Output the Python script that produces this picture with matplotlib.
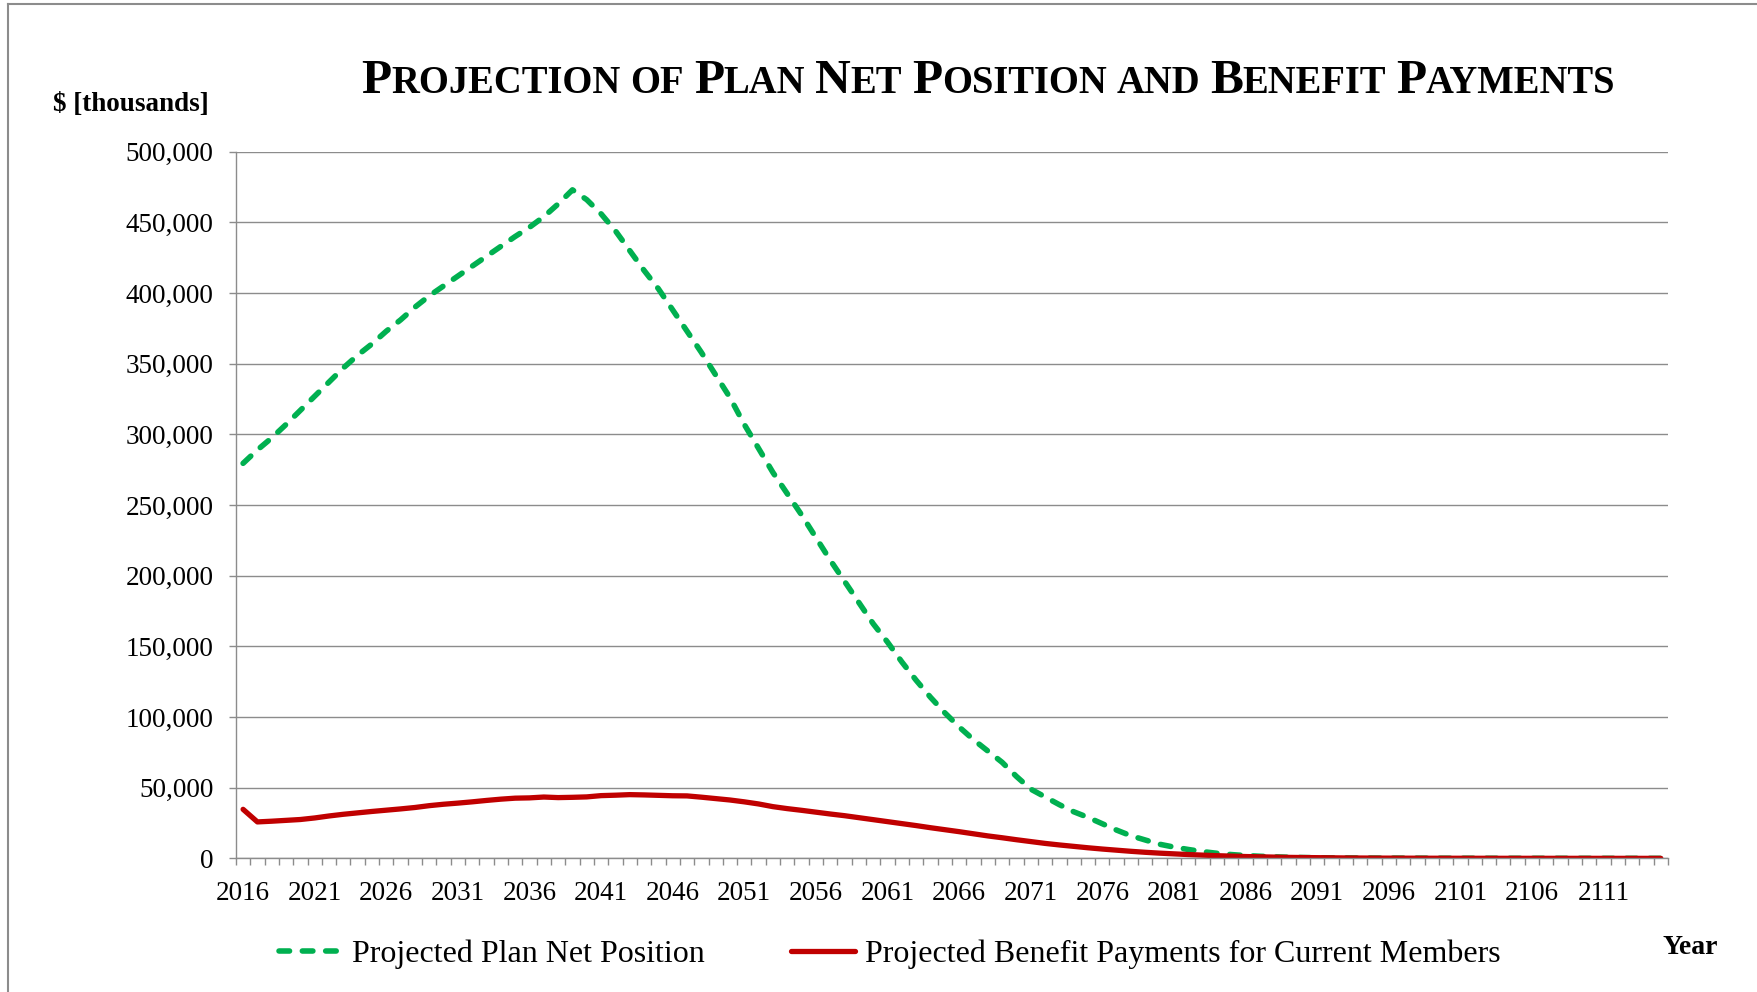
import matplotlib
matplotlib.use('Agg')
import numpy as np
import matplotlib.pyplot as plt
from matplotlib.lines import Line2D
from matplotlib.ticker import FuncFormatter
from matplotlib.offsetbox import TextArea, HPacker, AnchoredOffsetbox

plt.rcParams['font.family'] = ['Liberation Serif', 'DejaVu Serif']

# data, $ thousands
years = list(range(2016, 2116))

net_position = [
    279.5, 289, 297.5, 307, 317, 327, 337, 347, 356, 364, 373, 381, 390, 398, 405, 412,
    419, 426, 433, 440, 446.5, 454, 463, 473,
    466, 456, 444, 430, 416, 403, 388, 373, 358, 342, 326, 307, 290, 273, 258, 243,
    227, 211, 196, 181,
    166, 153, 139, 126, 114, 103, 93, 84, 76, 68, 58, 49, 43.5, 38, 33, 29,
    24.5, 20, 16, 13,
    10, 8, 6.3, 4.8, 3.6, 2.7, 2.0, 1.5, 1.1, 0.8, 0.6, 0.45, 0.35, 0.3, 0.25, 0.2,
    0.18, 0.16, 0.14, 0.12,
    0.1, 0.09, 0.08, 0.07, 0.06, 0.05, 0.05, 0.04, 0.04, 0.03, 0.03, 0.02, 0.02, 0.02,
    0.01, 0.01,
]

benefit_payments = [
    34.7, 25.8, 26.3, 26.9, 27.5, 28.6, 30.0, 31.2, 32.2, 33.2, 34.1, 35.0, 36.0, 37.3,
    38.3, 39.1, 40.0, 41.0, 41.9, 42.6, 42.8, 43.4, 43.0, 43.2,
    43.5, 44.4, 44.7, 45.1, 44.9, 44.6, 44.3, 44.2, 43.3, 42.3, 41.3, 40.0, 38.5, 36.6,
    35.2, 34.0, 32.7, 31.4, 30.2, 28.8,
    27.4, 26.0, 24.6, 23.2, 21.7, 20.3, 18.9, 17.4, 15.9, 14.6, 13.2, 11.9, 10.6, 9.5,
    8.5, 7.5, 6.6, 5.8, 5.0, 4.3,
    3.7, 3.2, 2.7, 2.3, 1.9, 1.6, 1.3, 1.1, 0.9, 0.7, 0.6, 0.5, 0.4, 0.3, 0.25, 0.2,
    0.17, 0.14, 0.12, 0.1,
    0.09, 0.08, 0.07, 0.06, 0.05, 0.05, 0.04, 0.04, 0.03, 0.03, 0.03, 0.02, 0.02, 0.02,
    0.01, 0.01,
]

label_net = 'Projected Plan Net Position'
label_ben = 'Projected Benefit Payments for Current Members'
title = 'Projection of Plan Net Position and Benefit Payments'

GRAY = '#8c8c8c'

fig = plt.figure(figsize=(17.58, 9.92), dpi=100)
ax = fig.add_axes([0.1342, 0.1347, 0.8146, 0.7124])

x = np.arange(len(years))
net = np.array(net_position) * 1000
ben = np.array(benefit_payments) * 1000

ax.plot(x, net, color='#00B050', lw=4.0, dashes=(1.9, 2.3),
        dash_capstyle='round', label=label_net)
ax.plot(x, ben, color='#C00000', lw=3.8, solid_capstyle='round',
        label=label_ben)

ax.set_xlim(-0.5, len(years) - 0.5)
ax.set_ylim(0, 500000)
ax.set_yticks(np.arange(0, 500001, 50000))
ax.yaxis.set_major_formatter(FuncFormatter(lambda v, p: f'{int(v):,}'))
ax.set_xticks(x[::5])
ax.set_xticklabels([str(y) for y in years[::5]])
ax.set_xticks(np.arange(-0.5, len(years), 1), minor=True)

ax.yaxis.grid(True, color=GRAY, lw=1.0)
ax.set_axisbelow(True)
for s in ['top', 'right']:
    ax.spines[s].set_visible(False)
for s in ['left', 'bottom']:
    ax.spines[s].set_color(GRAY)
    ax.spines[s].set_linewidth(1.0)

ax.tick_params(axis='y', length=5, width=1, color=GRAY, labelsize=19.5, pad=11)
ax.tick_params(axis='x', which='major', length=0, labelsize=19.5, pad=16.5)
ax.tick_params(axis='x', which='minor', length=5, width=1, color=GRAY)

# title in small caps
def small_caps(text, big, small):
    words = []
    for w in text.split():
        parts = []
        rest = w
        if w[0].isupper():
            parts.append(TextArea(w[0], textprops=dict(fontsize=big, fontweight='bold')))
            rest = w[1:]
        if rest:
            parts.append(TextArea(rest.upper(), textprops=dict(fontsize=small, fontweight='bold')))
        words.append(HPacker(children=parts, align='baseline', pad=0, sep=0))
    return HPacker(children=words, align='baseline', pad=0, sep=small * 0.25)

tbox = small_caps(title, 35.6, 27.8)
anchored = AnchoredOffsetbox(loc='center', child=tbox, pad=0, borderpad=0, frameon=False,
                             bbox_to_anchor=(0.5623, 0.918), bbox_transform=fig.transFigure)
fig.add_artist(anchored)

fig.text(0.030, 0.888, '$ [thousands]', ha='left', va='baseline',
         fontsize=19.5, fontweight='bold')
fig.text(0.9616, 0.038, 'Year', ha='center', va='baseline',
         fontsize=20, fontweight='bold')

ax.legend(loc='center', bbox_to_anchor=(0.506, 0.038), bbox_transform=fig.transFigure,
          ncol=2, frameon=False, fontsize=23, handlelength=2.0, handletextpad=0.3,
          columnspacing=2.7)

# outer frame
fig.add_artist(Line2D([8 / 1758, 8 / 1758], [0, 1 - 4 / 992], transform=fig.transFigure,
                      color=GRAY, lw=1.5))
fig.add_artist(Line2D([8 / 1758, 1], [1 - 4 / 992, 1 - 4 / 992], transform=fig.transFigure,
                      color=GRAY, lw=1.5))

fig.savefig('out.png', dpi=100)
